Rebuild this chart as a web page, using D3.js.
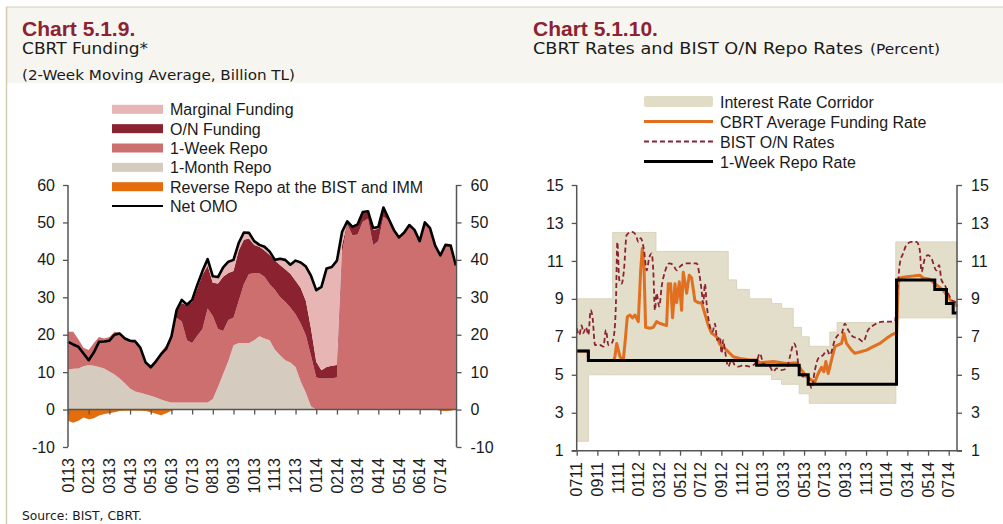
<!DOCTYPE html>
<html lang="en">
<head>
<meta charset="utf-8">
<title>CBRT Funding and Rates</title>
<script src="https://cdn.jsdelivr.net/npm/d3@7"></script>
<style>
  body { margin: 0; background: #fff; }
  svg { display: block; font-family: "Liberation Sans", Arial, sans-serif; }
  .tick text { font-size: 16px; fill: #1a1a1a; }
</style>
</head>
<body>
<svg id="chart" width="1003" height="524"></svg>
<script>
// ---- Chart 5.1.9 : weekly-ish points, 4 per month from 01/2013 ----
var leftLabels = ["0113","0213","0313","0413","0513","0613","0713","0813","0913","1013",
                  "1113","1213","0114","0214","0314","0414","0514","0614","0714"];

var oneMonth = [10.7,10.9,11.0,11.6, 11.9,11.7,11.4,11.0, 10.2,9.4,8.3,7.0, 5.6,4.8,4.5,4.1,
                3.7,3.2,2.7,2.2, 1.9,1.9,1.9,1.9, 1.9,1.9,1.9,1.9, 2.8,6.0,9.5,13.0,
                17.2,17.8,17.8,17.8, 18.5,19.6,19.0,18.5, 16.0,14.5,13.2,12.6, 11.4,7.5,4.5,0.8,
                0,0,0,0, 0,0,0,0, 0,0,0,0, 0,0,0,0, 0,0,0,0, 0,0,0,0, 0,0,0,0];
var oneWeek = [10.1,9.9,7.8,4.9, 4.0,6.1,8.0,8.0, 9.2,11.4,12.3,12.3, 13.0,14.0,12.5,8.9,
               8.2,10.2,12.7,15.0, 17.9,22.6,21.6,16.6, 15.9,17.8,19.6,25.1, 22.2,15.5,11.5,10.9,
               7.3,11.2,15.7,18.4, 17.9,16.8,16.5,15.0, 16.0,15.6,15.6,14.7, 14.1,15.5,15.3,13.5,
               8.6,8.3,8.3,8.4, 8.6,42.0,49.5,46.6, 46.8,50.2,51.0,44.0, 45.0,51.5,50.5,47.8,
               45.8,47.1,49.1,47.8, 44.8,49.8,48.3,43.6, 41.0,43.8,43.6,38.3];
var onFunding = [0,0,0,0, 0,0,0,0, 0,0,0,0, 0,0,0,0, 0,0,0,0,
                 0,2.1,5.0,9.3, 11.0,12.6,14.5,11.4, 8.9,12.2,14.5,12.6,
                 12.5,13.5,11.9,9.5, 7.6,7.1,7.0,7.8, 7.8,8.5,8.7,9.0, 8.9,9.5,9.2,7.2,
                 4.2,2.2,3.1,3.3, 3.3,2.0,0.5,2.0, 2.5,2.4,1.8,4.0, 3.3,2.3,0.3,0.1,
                 0,0,0,0, 0,0,0,0, 0,0,0,0];
var marginal = [0,0,0,0, 0,0,0,0, 0,0,0,0, 0,0,0,0, 0,0,0,0,
                0,0,0.8,0.2, 0.5,1.0,1.0,1.8, 1.7,1.7,2.5,3.0,
                3.0,2.0,1.9,1.5, 1.0,0.5,1.0,0.9, 0.2,1.7,2.5,2.4, 5.4,6.8,9.2,14.2,
                19.1,22.3,26.3,26.4, 27.9,3.5,0.3,0.2, 0.2,0.2,0.2,0.5, 0.5,0.2,0.2,0.1,
                0.2,0.2,0.2,0.2, 0.2,0.2,0.2,0.2, 0.2,0.2,0.2,0.2];
var reverseRepo = [-3.0,-3.5,-3.0,-2.1, -2.6,-2.3,-1.6,-1.2, -1.0,-0.7,-0.4,-0.3, -0.3,-0.3,-0.3,-0.4,
                   -0.7,-1.1,-1.5,-1.0, -0.3,0,0,0, 0,0,0,0, 0,0,0,0,
                   0,0,0,0, 0,0,0,0, 0,0,0,0, 0,0,0,0,
                   0,0,0,0, 0,0,0,0, 0,0,0,0, 0,0,0,0,
                   0,0,0,0, 0,0,0,0, -0.3,-0.4,-0.3,0];
var netOMO = [18.1,17.4,16.8,15.0, 13.2,15.3,18.1,18.2, 18.4,20.0,20.3,19.0, 18.4,18.2,16.5,12.6,
              11.3,12.9,14.8,16.3, 19.5,26.6,29.3,28.0, 29.3,33.3,37.0,40.2, 35.6,35.4,38.0,39.5,
              40.0,44.5,47.3,47.2, 45.0,44.0,43.5,42.2, 40.0,40.3,40.0,38.7, 39.8,39.3,38.2,35.7,
              31.9,32.8,37.7,38.1, 39.8,47.5,50.3,48.8, 49.5,52.8,53.0,48.5, 48.8,54.0,51.0,48.0,
              46.0,47.3,49.3,48.0, 45.0,50.0,48.5,43.8, 41.2,44.0,43.8,38.5];

// ---- Chart 5.1.10 : months since 07/2011 ----
var rightLabels = ["0711","0911","1111","0112","0312","0512","0712","0912","1112","0113",
                   "0313","0513","0713","0913","1113","0114","0314","0514","0714"];

var corridorT    = [0, 1.13, 3.48, 7.67, 14.66, 15.47, 16.7, 18.86, 19.83, 20.95, 21.53, 21.76, 22.5, 24.5, 25.2, 30.88, 36.8];
var corridorLow  = [1.5, 5, 5, 5, 5, 5, 5, 4.75, 4.5, 4.5, 4.0, 4.0, 3.5, 3.5, 3.5, 8.0, 8.0];
var corridorHigh = [9, 9, 12.5, 11.5, 10, 9.5, 9, 8.75, 8.5, 7.5, 7.5, 7.0, 6.5, 7.25, 7.75, 12.0, 12.0];

var repoT    = [0, 1.13, 17.41, 21.53, 22.4, 30.95, 34.65, 35.78, 36.43, 36.8];
var repoRate = [6.25, 5.75, 5.5, 5.0, 4.5, 10.0, 9.5, 8.75, 8.25, 8.25];

var cbrtT = [0,1.10,1.15,3.60,3.71,3.87,4.03,4.19,4.51,4.67,4.90,5.15,5.41,5.64,5.96,6.19,6.35,6.51,6.67,
             7.09,7.41,7.73,8.06,8.70,8.86,9.09,9.28,9.51,9.67,9.93,10.15,10.31,10.64,10.89,11.12,11.44,
             11.76,12.08,12.41,12.73,13.05,13.54,13.86,14.50,15.15,15.79,16.76,17.40,17.73,19.02,20.31,
             21.27,21.76,22.24,22.73,23.05,23.37,23.69,23.92,24.11,24.34,24.66,24.98,25.30,25.63,25.85,
             26.11,26.59,26.92,27.40,28.04,28.69,29.33,29.98,30.46,30.79,30.95,31.11,31.27,31.91,32.55,
             33.20,33.52,34.17,34.81,35.46,35.94,36.27,36.59,36.81];
var cbrtRate = [6.25,6.25,5.75,5.75,6.0,6.65,6.3,5.95,5.78,6.65,8.06,8.15,8.0,8.15,7.8,10.5,11.66,10.7,7.5,
                7.45,7.5,7.8,7.7,7.6,9.8,9.8,8.0,9.8,8.8,9.9,8.4,10.4,9.3,10.25,10.1,8.9,
                8.8,8.8,8.2,7.6,7.2,7.0,6.6,6.3,5.95,5.86,5.78,5.78,5.64,5.7,5.6,
                5.64,5.25,4.9,4.72,4.63,5.07,5.4,5.16,5.7,5.07,5.78,6.48,6.57,6.65,7.18,
                6.65,6.3,6.13,6.2,6.3,6.48,6.65,6.92,7.1,7.18,7.1,9.8,10.1,10.17,10.2,
                10.25,10.1,10.03,9.73,9.46,9.1,8.85,8.76,8.6];

var bistT = [0,0.25,0.48,0.64,0.90,1.13,1.35,1.54,1.77,2.25,2.58,2.83,3.06,3.38,3.61,3.80,3.93,4.12,4.35,
             4.57,4.83,5.31,5.73,5.96,6.19,6.51,6.77,7.03,7.25,7.41,7.57,7.73,7.99,8.22,8.54,8.96,9.35,
             9.67,9.99,10.64,11.60,11.86,12.08,12.25,12.41,12.57,12.83,13.15,13.37,13.60,13.86,14.02,
             14.18,14.34,14.66,14.99,15.31,15.63,16.11,16.76,17.40,17.73,18.05,18.70,19.02,19.34,19.82,
             20.31,20.63,21.02,21.27,21.53,21.92,22.40,22.73,23.05,23.37,23.85,24.24,24.50,24.98,25.30,
             25.63,25.95,26.27,26.75,27.24,27.72,28.20,28.69,29.01,29.65,30.79,30.95,31.27,31.59,31.91,
             32.39,32.88,33.20,33.36,33.69,34.01,34.33,34.81,35.07,35.29,35.62,35.94,36.27,36.59,36.81];
var bistRate = [7.45,7.1,7.6,7.2,7.5,7.1,8.4,8.0,6.57,6.57,6.48,7.36,6.57,6.65,7.1,8.85,12.0,10.0,9.8,
                10.5,12.36,12.54,12.36,12.0,12.2,11.57,10.5,11.2,11.4,10.5,8.4,9.3,8.6,9.64,10.43,10.87,10.78,
                10.5,10.7,10.87,10.87,10.34,9.46,8.76,9.8,8.76,7.7,7.27,7.7,6.83,7.0,6.13,
                6.83,6.3,5.43,5.78,5.5,5.43,5.5,5.43,5.7,6.13,5.6,5.43,5.16,5.34,5.25,
                5.34,5.95,6.65,6.3,5.25,4.9,4.9,4.28,5.25,5.86,6.04,6.3,6.04,6.83,7.1,
                7.18,7.7,7.36,7.0,6.92,6.74,7.36,7.6,7.7,7.8,7.8,8.76,10.87,11.4,11.84,
                12.0,12.0,11.57,10.43,11.13,11.3,11.13,10.5,10.78,10.0,9.73,9.3,8.94,8.85,8.76];

var svg = d3.select("#chart");
var ink = "#1a1a1a", axisCol = "#555";
var plain = d => String(d); // hyphen minus like the original, not U+2212

// page frame
svg.append("rect").attr("x", 6).attr("y", 7).attr("width", 997).attr("height", 76).attr("fill", "#f7f5f0");
svg.append("line").attr("x1", 6).attr("x2", 1003).attr("y1", 7).attr("y2", 7).attr("stroke", "#d6ccb4");
svg.append("line").attr("x1", 6.5).attr("x2", 6.5).attr("y1", 7).attr("y2", 524).attr("stroke", "#d6ccb4").attr("stroke-width", 1.5);

function title(x, main, sub, subLen, note, noteX, noteLen) {
  svg.append("text").attr("x", x).attr("y", 36).text(main)
    .attr("font-size", 21).attr("font-weight", "bold").attr("fill", "#8c2232");
  svg.append("text").attr("x", x).attr("y", 53.5).text(sub)
    .attr("font-family", "DejaVu Sans").attr("font-size", 16.5).attr("fill", ink)
    .attr("textLength", subLen).attr("lengthAdjust", "spacingAndGlyphs");
  if (note) {
    svg.append("text").attr("x", noteX).attr("y", note.y).text(note.t)
      .attr("font-family", "DejaVu Sans").attr("font-size", note.s).attr("fill", ink)
      .attr("textLength", noteLen).attr("lengthAdjust", "spacingAndGlyphs");
  }
}
title(22, "Chart 5.1.9.", "CBRT Funding*", 126, {t: "(2-Week Moving Average, Billion TL)", y: 80, s: 14.5}, 22, 273);
title(533, "Chart 5.1.10.", "CBRT Rates and BIST O/N Repo Rates", 330, {t: "(Percent)", y: 53.5, s: 13.5}, 870, 70);

svg.append("text").attr("x", 22).attr("y", 520).text("Source: BIST, CBRT.")
  .attr("font-family", "DejaVu Sans").attr("font-size", 13).attr("fill", ink)
  .attr("textLength", 120).attr("lengthAdjust", "spacingAndGlyphs");

function styleAxis(g) {
  g.select(".domain").remove();
  g.selectAll(".tick line").attr("stroke", axisCol).attr("stroke-width", 1.3);
}

// ================= left chart =================
var xL = d3.scaleLinear().domain([0, 18.78]).range([68, 456.5]);
var yL = d3.scaleLinear().domain([-10, 60]).range([447, 185]);

var rows = netOMO.map(function (d, i) {
  return {t: i * 0.25, oneMonth: oneMonth[i], oneWeek: oneWeek[i], onFunding: onFunding[i],
          marginal: marginal[i], reverse: reverseRepo[i], net: d};
});
var keys = ["oneMonth", "oneWeek", "onFunding", "marginal"];
var fills = {oneMonth: "#d5cbbf", oneWeek: "#cc6f6e", onFunding: "#8b2230", marginal: "#e8b5b5"};
var series = d3.stack().keys(keys)(rows);

var areaL = d3.area().x(d => xL(d.data.t)).y0(d => yL(d[0])).y1(d => yL(d[1]));
svg.append("g").selectAll("path").data(series).enter().append("path")
  .attr("d", areaL).attr("fill", d => fills[d.key]);

svg.append("path").datum(rows)
  .attr("d", d3.area().x(d => xL(d.t)).y0(yL(0)).y1(d => yL(d.reverse)))
  .attr("fill", "#e46c0a");

svg.append("path").datum(rows)
  .attr("d", d3.line().x(d => xL(d.t)).y(d => yL(d.net)))
  .attr("fill", "none").attr("stroke", "#000").attr("stroke-width", 2.6).attr("stroke-linejoin", "round");

// axes
var yTicksL = d3.range(-10, 61, 10);
svg.append("line").attr("x1", 68).attr("x2", 68).attr("y1", 185).attr("y2", 447).attr("stroke", axisCol).attr("stroke-width", 1.5);
svg.append("line").attr("x1", 456.5).attr("x2", 456.5).attr("y1", 185).attr("y2", 447).attr("stroke", axisCol).attr("stroke-width", 1.5);
svg.append("g").attr("transform", "translate(68,0)")
  .call(d3.axisLeft(yL).tickValues(yTicksL).tickFormat(plain).tickSize(5).tickPadding(8)).call(styleAxis);
svg.append("g").attr("transform", "translate(456.5,0)")
  .call(d3.axisRight(yL).tickValues(yTicksL).tickFormat(plain).tickSize(5).tickPadding(9)).call(styleAxis);
svg.append("line").attr("x1", 68).attr("x2", 456.5).attr("y1", yL(0)).attr("y2", yL(0)).attr("stroke", axisCol).attr("stroke-width", 1.5);
svg.append("g").attr("transform", "translate(0," + yL(0) + ")")
  .call(d3.axisBottom(xL).tickValues(d3.range(leftLabels.length)).tickSize(5).tickFormat("")).call(styleAxis);
svg.append("g").selectAll("text").data(leftLabels).enter().append("text")
  .attr("transform", (d, i) => "translate(" + xL(i) + ",458) rotate(-90)")
  .attr("dy", "0.35em").attr("text-anchor", "end").attr("font-size", 16).attr("fill", ink).text(d => d);

// legend
var legL = [
  {name: "Marginal Funding", col: fills.marginal},
  {name: "O/N Funding", col: fills.onFunding},
  {name: "1-Week Repo", col: fills.oneWeek},
  {name: "1-Month Repo", col: fills.oneMonth},
  {name: "Reverse Repo at the BIST and IMM", col: "#e46c0a"},
  {name: "Net OMO", col: "#000", line: true}
];
var gl = svg.append("g").selectAll("g").data(legL).enter().append("g")
  .attr("transform", (d, i) => "translate(112," + (109.3 + i * 19.35) + ")");
gl.filter(d => !d.line).append("rect").attr("x", 0).attr("y", -4.5).attr("width", 51).attr("height", 9).attr("fill", d => d.col);
gl.filter(d => d.line).append("line").attr("x1", 0).attr("x2", 51).attr("stroke", "#000").attr("stroke-width", 2);
gl.append("text").attr("x", 58).attr("y", 6).attr("font-size", 16).attr("fill", ink).text(d => d.name);

// ================= right chart =================
var xR = d3.scaleLinear().domain([0, 36.8]).range([576.7, 957]);
var yR = d3.scaleLinear().domain([1, 15]).range([450.7, 185]);

var corr = corridorT.map((t, i) => ({t: t, lo: corridorLow[i], hi: corridorHigh[i]}));
svg.append("path").datum(corr)
  .attr("d", d3.area().curve(d3.curveStepAfter).x(d => xR(d.t)).y0(d => yR(d.lo)).y1(d => yR(d.hi)))
  .attr("fill", "#e3dec9").attr("stroke", "#d9d3bb").attr("stroke-width", 1);

svg.append("path").datum(cbrtT.map((t, i) => [t, cbrtRate[i]]))
  .attr("d", d3.line().x(d => xR(d[0])).y(d => yR(d[1])))
  .attr("fill", "none").attr("stroke", "#e07020").attr("stroke-width", 3).attr("stroke-linejoin", "round");

svg.append("path").datum(bistT.map((t, i) => [t, bistRate[i]]))
  .attr("d", d3.line().curve(d3.curveMonotoneX).x(d => xR(d[0])).y(d => yR(d[1])))
  .attr("fill", "none").attr("stroke", "#8b2331").attr("stroke-width", 1.8).attr("stroke-dasharray", "5,3");

svg.append("path").datum(repoT.map((t, i) => [t, repoRate[i]]))
  .attr("d", d3.line().curve(d3.curveStepAfter).x(d => xR(d[0])).y(d => yR(d[1])))
  .attr("fill", "none").attr("stroke", "#000").attr("stroke-width", 3);

var yTicksR = d3.range(1, 16, 2);
svg.append("line").attr("x1", 576.7).attr("x2", 576.7).attr("y1", 185).attr("y2", 450.7).attr("stroke", axisCol).attr("stroke-width", 1.5);
svg.append("line").attr("x1", 957).attr("x2", 957).attr("y1", 185).attr("y2", 450.7).attr("stroke", axisCol).attr("stroke-width", 1.5);
svg.append("line").attr("x1", 571.7).attr("x2", 962).attr("y1", 450.7).attr("y2", 450.7).attr("stroke", axisCol).attr("stroke-width", 1.5);
svg.append("g").attr("transform", "translate(576.7,0)")
  .call(d3.axisLeft(yR).tickValues(yTicksR).tickFormat(plain).tickSize(5).tickPadding(8)).call(styleAxis);
svg.append("g").attr("transform", "translate(957,0)")
  .call(d3.axisRight(yR).tickValues(yTicksR).tickFormat(plain).tickSize(5).tickPadding(9)).call(styleAxis);
svg.append("g").attr("transform", "translate(0,450.7)")
  .call(d3.axisBottom(xR).tickValues(d3.range(0, 37, 2)).tickSize(5).tickFormat("")).call(styleAxis);
svg.append("g").selectAll("text").data(rightLabels).enter().append("text")
  .attr("transform", (d, i) => "translate(" + xR(i * 2) + ",462) rotate(-90)")
  .attr("dy", "0.35em").attr("text-anchor", "end").attr("font-size", 16).attr("fill", ink).text(d => d);

var legR = [
  {name: "Interest Rate Corridor", kind: "band"},
  {name: "CBRT Average Funding Rate", col: "#e07020", w: 3},
  {name: "BIST O/N Rates", col: "#8b2331", w: 1.8, dash: "5,3"},
  {name: "1-Week Repo Rate", col: "#000", w: 3}
];
var gr = svg.append("g").selectAll("g").data(legR).enter().append("g")
  .attr("transform", (d, i) => "translate(644," + (101.5 + i * 20) + ")");
gr.filter(d => d.kind === "band").append("rect").attr("x", 0).attr("y", -5.5).attr("width", 69).attr("height", 11)
  .attr("rx", 2).attr("fill", "#e1dcc6");
gr.filter(d => d.kind !== "band").append("line").attr("x1", 0).attr("x2", 69)
  .attr("stroke", d => d.col).attr("stroke-width", d => d.w).attr("stroke-dasharray", d => d.dash || null);
gr.append("text").attr("x", 76).attr("y", 6).attr("font-size", 16).attr("fill", ink).text(d => d.name);
</script>
</body>
</html>
